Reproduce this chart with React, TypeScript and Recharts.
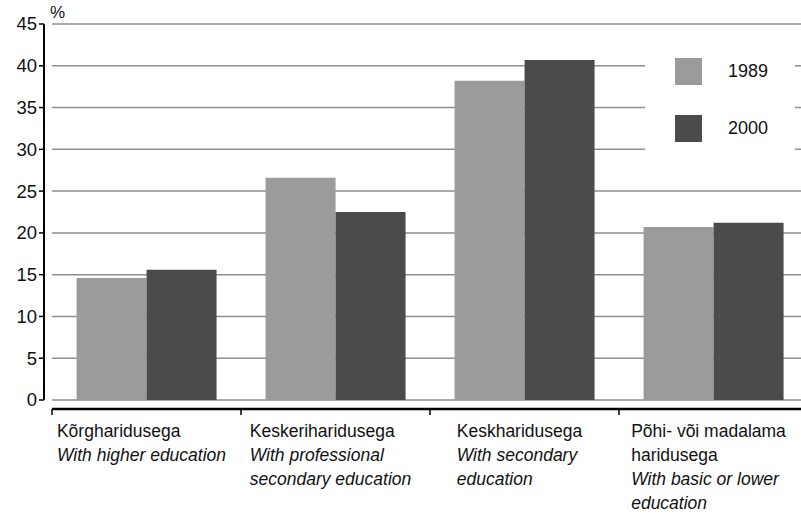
import { Bar, BarChart, CartesianGrid, XAxis, YAxis } from "recharts";

const CATEGORIES_ET = [
  "Kõrgharidusega",
  "Keskeriharidusega",
  "Keskharidusega",
  "Põhi- või madalama\nharidusega",
];
const CATEGORIES_EN = [
  "With higher education",
  "With professional\nsecondary education",
  "With secondary\neducation",
  "With basic or lower\neducation",
];
const Y1989 = [14.6, 26.6, 38.2, 20.7];
const Y2000 = [15.6, 22.5, 40.7, 21.2];
const Y_TICKS = [0, 5, 10, 15, 20, 25, 30, 35, 40, 45];
const SERIES = [
  { key: "y1989", name: "1989", color: "#9b9b9b" },
  { key: "y2000", name: "2000", color: "#4b4b4b" },
];

const CHART_W = 820;
const CHART_H = 514;
const MARGIN = { top: 24, right: 12, bottom: 0, left: 0 };
const YAXIS_W = 52;
const BAND = (CHART_W - MARGIN.left - MARGIN.right - YAXIS_W) / CATEGORIES_ET.length;
const FONT = "'Liberation Sans', Arial, Helvetica, sans-serif";

const data = CATEGORIES_ET.map((c, i) => ({
  cat: c,
  en: CATEGORIES_EN[i],
  y1989: Y1989[i],
  y2000: Y2000[i],
}));

function XTick(props: any) {
  const { x, y, index } = props;
  const left = x - BAND / 2;
  return (
    <g>
      <line x1={left} x2={left} y1={y + 9} y2={y + 15} stroke="#000" strokeWidth={1.5} />
      <foreignObject x={left - 5} y={y + 19} width={BAND} height={95}>
        <div
          style={{
            display: "flex",
            justifyContent: "center",
            fontFamily: FONT,
            fontSize: 17.5,
            lineHeight: "24px",
            color: "#111",
          }}
        >
          <div style={{ whiteSpace: "pre", textAlign: "left" }}>
            <div>{data[index].cat}</div>
            <div style={{ fontStyle: "italic" }}>{data[index].en}</div>
          </div>
        </div>
      </foreignObject>
    </g>
  );
}

function YTick(props: any) {
  const { x, y, payload } = props;
  return (
    <text x={x - 8} y={y} dy="0.35em" textAnchor="end" fontFamily={FONT} fontSize={18.5} fill="#111">
      {payload.value}
    </text>
  );
}

export default function App() {
  return (
    <div
      style={{
        position: "absolute",
        left: 0,
        top: 0,
        width: 801,
        height: 514,
        overflow: "hidden",
        background: "#fff",
      }}
    >
      <BarChart
        width={CHART_W}
        height={CHART_H}
        data={data}
        margin={MARGIN}
        barCategoryGap="13%"
        barGap={0}
      >
        <CartesianGrid vertical={false} stroke="#8e8e8e" strokeWidth={1.5} />
        <XAxis
          dataKey="cat"
          height={CHART_H - 400}
          axisLine={{ stroke: "#000", strokeWidth: 2.5, transform: "translate(0,9)" }}
          tickLine={false}
          tickSize={0}
          tickMargin={0}
          tick={<XTick />}
          interval={0}
        />
        <YAxis
          width={YAXIS_W}
          domain={[0, 45]}
          ticks={Y_TICKS}
          axisLine={{ stroke: "#000", strokeWidth: 2, transform: "translate(-8,0)" }}
          tickLine={{ stroke: "#000", strokeWidth: 1.5, transform: "translate(-8,0)" }}
          tickSize={5}
          tickMargin={2}
          tick={<YTick />}
        />
        {SERIES.map((s) => (
          <Bar key={s.key} dataKey={s.key} name={s.name} fill={s.color} isAnimationActive={false} />
        ))}
      </BarChart>
      <div style={{ position: "absolute", left: 50, top: 3, fontFamily: FONT, fontSize: 17, color: "#111" }}>%</div>
      <div
        style={{
          position: "absolute",
          left: 645,
          top: 40,
          width: 150,
          height: 125,
          background: "#fff",
          fontFamily: FONT,
        }}
      >
        {SERIES.map((s, i) => (
          <div
            key={s.key}
            style={{ position: "absolute", left: 30, top: 18 + i * 57, display: "flex", alignItems: "center" }}
          >
            <div style={{ width: 27, height: 27, background: s.color }} />
            <span style={{ marginLeft: 26, fontSize: 18, color: "#111" }}>{s.name}</span>
          </div>
        ))}
      </div>
    </div>
  );
}
